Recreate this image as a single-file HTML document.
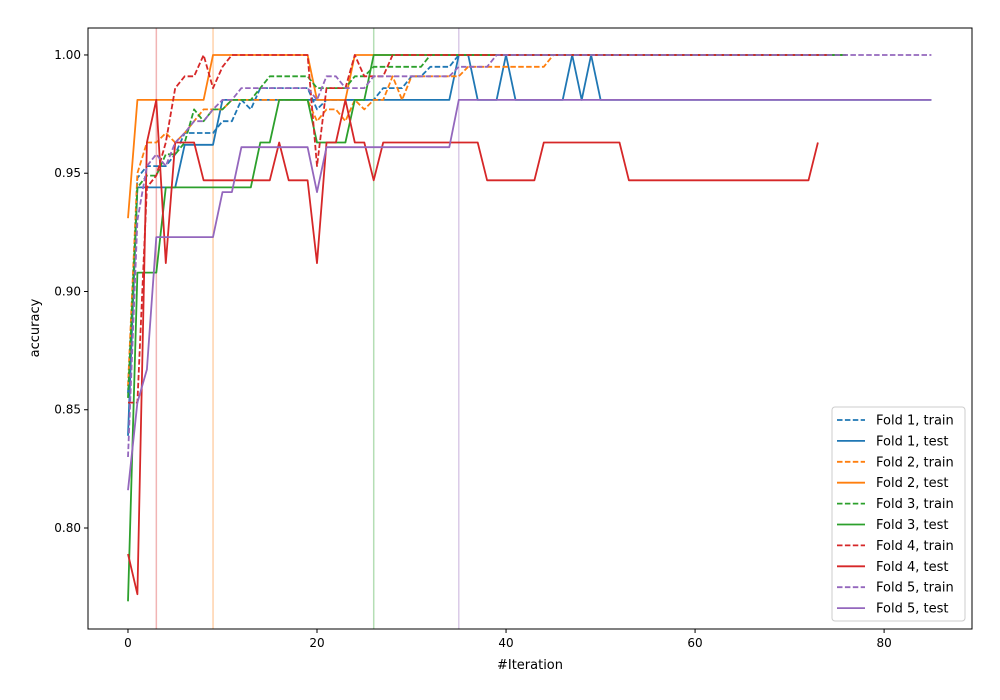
<!DOCTYPE html>
<html><head><meta charset="utf-8"><style>
body{margin:0;background:#fff;}
svg{display:block;font-family:"DejaVu Sans","Liberation Sans",sans-serif;}
</style></head><body>
<svg id="chart" width="1000" height="700" xmlns="http://www.w3.org/2000/svg">
<rect x="0" y="0" width="1000" height="700" fill="#fff"/>
<g id="vlines"></g>
<g id="series"></g>
<rect x="88" y="28" width="884" height="601" fill="none" stroke="#000" stroke-width="1"/>
<g id="axes"></g>
<text x="530" y="669" font-size="13" text-anchor="middle">#Iteration</text>
<text transform="translate(39,328) rotate(-90)" font-size="13" text-anchor="middle">accuracy</text>
<g id="legend"></g>
</svg>
<script>
const xTicks=[0,20,40,60,80];
const yTicks=[0.80,0.85,0.90,0.95,1.00];
const yTickLabels=["0.80","0.85","0.90","0.95","1.00"];
const bestIters=[3,9,26,35];
const foldNames=["Fold 1","Fold 2","Fold 3","Fold 4","Fold 5"];
const f1train=[0.857,0.948,0.953,0.953,0.953,0.958,0.967,0.967,0.967,0.967,0.972,0.972,0.981,0.977,0.986,0.986,0.986,0.986,0.986,0.986,0.977,0.981,0.981,0.981,0.981,0.981,0.981,0.986,0.986,0.986,0.991,0.991,0.995,0.995,0.995,1,1,1,1,1,1,1,1,1,1,1,1,1,1,1,1,1,1,1,1,1,1,1,1,1,1,1,1,1,1,1,1,1,1,1,1,1,1,1,1,1,1];
const f1test=[0.839,0.944,0.944,0.944,0.944,0.944,0.962,0.962,0.962,0.962,0.981,0.981,0.981,0.981,0.981,0.981,0.981,0.981,0.981,0.981,0.981,0.981,0.981,0.981,0.981,0.981,0.981,0.981,0.981,0.981,0.981,0.981,0.981,0.981,0.981,1,1,0.981,0.981,0.981,1,0.981,0.981,0.981,0.981,0.981,0.981,1,0.981,1,0.981,0.981,0.981,0.981,0.981,0.981,0.981,0.981,0.981,0.981,0.981,0.981,0.981,0.981,0.981,0.981,0.981,0.981,0.981,0.981,0.981,0.981,0.981,0.981,0.981,0.981,0.981,0.981,0.981,0.981,0.981,0.981,0.981,0.981,0.981,0.981];
const f2train=[0.86,0.95,0.963,0.963,0.967,0.963,0.967,0.972,0.977,0.977,0.977,0.981,0.981,0.981,0.981,0.981,0.981,0.981,0.981,0.981,0.972,0.977,0.977,0.972,0.981,0.977,0.981,0.981,0.991,0.981,0.991,0.991,0.991,0.991,0.991,0.991,0.995,0.995,0.995,0.995,0.995,0.995,0.995,0.995,0.995,1,1,1,1,1,1,1,1,1,1,1,1,1,1,1,1,1,1,1,1,1,1,1,1,1,1,1,1,1,1,1,1];
const f2test=[0.931,0.981,0.981,0.981,0.981,0.981,0.981,0.981,0.981,1,1,1,1,1,1,1,1,1,1,1,0.981,0.981,0.981,0.981,1,1,1,1,1,1,1,1,1,1,1,1,1,1,1,1,1,1,1,1,1,1,1,1,1,1,1,1,1,1,1,1,1,1,1,1,1,1,1,1,1,1,1,1,1,1,1,1,1,1,1,1,1];
const f3train=[0.855,0.944,0.949,0.949,0.958,0.958,0.963,0.977,0.972,0.977,0.977,0.981,0.981,0.981,0.986,0.991,0.991,0.991,0.991,0.991,0.986,0.986,0.986,0.986,0.991,0.991,0.995,0.995,0.995,0.995,0.995,0.995,1,1,1,1,1,1,1,1,1,1,1,1,1,1,1,1,1,1,1,1,1,1,1,1,1,1,1,1,1,1,1,1,1,1,1,1,1,1,1,1,1,1,1,1,1];
const f3test=[0.769,0.908,0.908,0.908,0.944,0.944,0.944,0.944,0.944,0.944,0.944,0.944,0.944,0.944,0.963,0.963,0.981,0.981,0.981,0.981,0.963,0.963,0.963,0.963,0.981,0.981,1,1,1,1,1,1,1,1,1,1,1,1,1,1,1,1,1,1,1,1,1,1,1,1,1,1,1,1,1,1,1,1,1,1,1,1,1,1,1,1,1,1,1,1,1,1,1,1,1,1,1];
const f4train=[0.853,0.853,0.944,0.949,0.963,0.986,0.991,0.991,1,0.986,0.995,1,1,1,1,1,1,1,1,1,0.953,0.986,0.986,0.986,1,0.991,0.991,0.991,1,1,1,1,1,1,1,1,1,1,1,1,1,1,1,1,1,1,1,1,1,1,1,1,1,1,1,1,1,1,1,1,1,1,1,1,1,1,1,1,1,1,1,1,1,1,1];
const f4test=[0.789,0.772,0.963,0.981,0.912,0.963,0.963,0.963,0.947,0.947,0.947,0.947,0.947,0.947,0.947,0.947,0.963,0.947,0.947,0.947,0.912,0.963,0.963,0.981,0.963,0.963,0.947,0.963,0.963,0.963,0.963,0.963,0.963,0.963,0.963,0.963,0.963,0.963,0.947,0.947,0.947,0.947,0.947,0.947,0.963,0.963,0.963,0.963,0.963,0.963,0.963,0.963,0.963,0.947,0.947,0.947,0.947,0.947,0.947,0.947,0.947,0.947,0.947,0.947,0.947,0.947,0.947,0.947,0.947,0.947,0.947,0.947,0.947,0.963];
const f5train=[0.83,0.93,0.953,0.958,0.953,0.963,0.967,0.972,0.972,0.977,0.981,0.981,0.986,0.986,0.986,0.986,0.986,0.986,0.986,0.986,0.981,0.991,0.991,0.986,0.986,0.986,0.991,0.991,0.991,0.991,0.991,0.991,0.991,0.991,0.991,0.995,0.995,0.995,0.995,1,1,1,1,1,1,1,1,1,1,1,1,1,1,1,1,1,1,1,1,1,1,1,1,1,1,1,1,1,1,1,1,1,1,1,1,1,1,1,1,1,1,1,1,1,1,1];
const f5test=[0.816,0.853,0.867,0.923,0.923,0.923,0.923,0.923,0.923,0.923,0.942,0.942,0.961,0.961,0.961,0.961,0.961,0.961,0.961,0.961,0.942,0.961,0.961,0.961,0.961,0.961,0.961,0.961,0.961,0.961,0.961,0.961,0.961,0.961,0.961,0.981,0.981,0.981,0.981,0.981,0.981,0.981,0.981,0.981,0.981,0.981,0.981,0.981,0.981,0.981,0.981,0.981,0.981,0.981,0.981,0.981,0.981,0.981,0.981,0.981,0.981,0.981,0.981,0.981,0.981,0.981,0.981,0.981,0.981,0.981,0.981,0.981,0.981,0.981,0.981,0.981,0.981,0.981,0.981,0.981,0.981,0.981,0.981,0.981,0.981,0.981];

const NS="http://www.w3.org/2000/svg";
const colors=["#1f77b4","#ff7f0e","#2ca02c","#d62728","#9467bd"];
const X0=88,X1=972,Y0=28,Y1=629,XMIN=-4.23,XMAX=89.3,YMIN=0.7573,YMAX=1.0114;
function sx(v){return X0+(v-XMIN)/(XMAX-XMIN)*(X1-X0);}
function sy(v){return Y1-(v-YMIN)/(YMAX-YMIN)*(Y1-Y0);}
function mk(tag,attrs,parent){const e=document.createElementNS(NS,tag);for(const k in attrs)e.setAttribute(k,attrs[k]);parent.appendChild(e);return e;}
const axes=document.getElementById('axes');
xTicks.forEach(t=>{
 const l=mk('line',{x1:sx(t),x2:sx(t),y1:Y1,y2:Y1+4,stroke:'#000'},axes);
 
 
 const tx=mk('text',{x:sx(t),y:Y1+18,'font-size':12,'text-anchor':'middle'},axes);tx.textContent=t;
 
 
});
yTicks.forEach((t,i)=>{
 const l=mk('line',{x1:X0-4,x2:X0,y1:sy(t),y2:sy(t),stroke:'#000'},axes);
 
 
 const tx=mk('text',{x:X0-7,y:sy(t)+4,'font-size':12,'text-anchor':'end'},axes);tx.textContent=yTickLabels[i];
 
 
});
const vl=document.getElementById('vlines');
bestIters.forEach((b,i)=>{
 const l=mk('line',{x1:sx(b),x2:sx(b),y1:Y0,y2:Y1,stroke:colors[(i===0?3:i===1?1:i===2?2:4)],'stroke-opacity':0.35,'stroke-width':1.5},vl);
 
 
});
const trains=[f1train,f2train,f3train,f4train,f5train];
const tests=[f1test,f2test,f3test,f4test,f5test];
const sg=document.getElementById('series');
function draw(arr,c,dash,name){
 const pts=arr.map((v,i)=>sx(i).toFixed(1)+','+sy(v).toFixed(1)).join(' ');
 const p=mk('polyline',{points:pts,fill:'none',stroke:c,'stroke-width':1.8,'stroke-linejoin':'round'},sg);
 if(dash)p.setAttribute('stroke-dasharray','5.5,2.4');
 
 
}
for(let i=0;i<5;i++){draw(trains[i],colors[i],true,'fold'+(i+1)+'-train-line');draw(tests[i],colors[i],false,'fold'+(i+1)+'-test-line');}
const lg=document.getElementById('legend');
const box=mk('rect',{x:832,y:407,width:133,height:214,rx:3,fill:'#fff','fill-opacity':0.8,stroke:'#ccc'},lg);


for(let i=0;i<10;i++){
 const f=Math.floor(i/2),tr=i%2===0,y=420+i*20.9;
 const l=mk('line',{x1:837,x2:865,y1:y,y2:y,stroke:colors[f],'stroke-width':1.8},lg);
 if(tr)l.setAttribute('stroke-dasharray','5.5,2.4');
 
 
 const t=mk('text',{x:876,y:y+4.5,'font-size':13,fill:'#000'},lg);
 t.textContent=foldNames[f]+(tr?', train':', test');
 
 
}
</script>
</body></html>
